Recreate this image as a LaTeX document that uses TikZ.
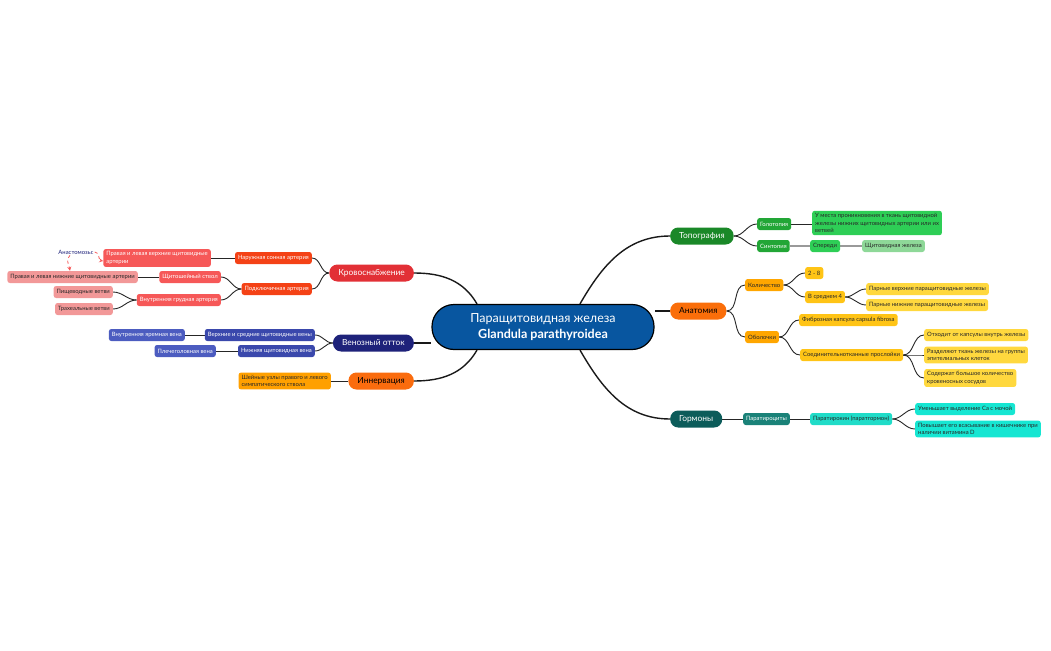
\documentclass[tikz,border=0pt]{standalone}
\usepackage{fontspec}
\setmainfont{Lato}
\usepackage{tikz}
\usepackage{color}
\usetikzlibrary{arrows,positioning,backgrounds}

\definecolor{centc}{RGB}{8,86,160}
\definecolor{krov}{RGB}{226,48,54}
\definecolor{krovA}{RGB}{244,66,22}
\definecolor{krovB}{RGB}{246,88,88}
\definecolor{krovC}{RGB}{242,152,152}
\definecolor{ven}{RGB}{30,34,122}
\definecolor{venA}{RGB}{58,72,172}
\definecolor{venB}{RGB}{76,92,192}
\definecolor{inn}{RGB}{250,108,14}
\definecolor{innA}{RGB}{255,160,0}
\definecolor{topo}{RGB}{26,136,40}
\definecolor{topoA}{RGB}{34,166,54}
\definecolor{topoB}{RGB}{46,206,86}
\definecolor{topoC}{RGB}{142,216,152}
\definecolor{anat}{RGB}{250,110,10}
\definecolor{anatA}{RGB}{255,166,0}
\definecolor{anatB}{RGB}{255,196,22}
\definecolor{anatC}{RGB}{255,216,62}
\definecolor{horm}{RGB}{12,92,90}
\definecolor{hormA}{RGB}{26,130,120}
\definecolor{hormB}{RGB}{32,220,200}
\definecolor{hormC}{RGB}{22,230,210}
\definecolor{darktxt}{RGB}{40,40,40}

\begin{document}
\begin{tikzpicture}[x=1pt,y=-1pt,
  main/.style={rectangle,rounded corners=8pt,minimum height=17pt,inner xsep=9pt,inner ysep=0pt,font=\fontsize{8.4}{10}\selectfont},
  leaf/.style={rectangle,rounded corners=2.5pt,minimum height=12pt,inner xsep=3pt,inner ysep=2.5pt,align=left,font=\fontsize{5.9}{7.6}\selectfont},
  conn/.style={draw=black!85,line width=0.9pt},
  mconn/.style={draw=black!90,line width=1.4pt},
  gconn/.style={draw=black!40,line width=1.5pt},
  anarr/.style={draw=krovB,line width=0.8pt,dashed,-stealth}]
\useasboundingbox (0,0) rectangle (1051,650);

% centre
\node at (543,327)[rectangle,rounded corners=22pt,minimum width=222pt,minimum height=45pt,draw=black,line width=1.2pt,fill=centc,text=white,align=center,font=\fontsize{12.5}{16}\selectfont](cent){Паращитовидная железа\\\textbf{Glandula parathyroidea}};

% left: blood supply
\node at (414,273)[main,anchor=east,fill=krov,text=white](krov){Кровоснабжение};
\node at (312,258)[leaf,anchor=east,fill=krovA,text=white](krovA1){Наружная сонная артерия};
\node at (312,289)[leaf,anchor=east,fill=krovA,text=white](krovA2){Подключичная артерия};
\node at (211,258)[leaf,anchor=east,fill=krovB,text=white](krovB1){Правая и левая верхние щитовидные\\артерии};
\node at (221,277)[leaf,anchor=east,fill=krovB,text=white](krovB2){Щитошейный ствол};
\node at (221,300)[leaf,anchor=east,fill=krovB,text=white](krovB3){Внутренняя грудная артерия};
\node at (138,277)[leaf,anchor=east,fill=krovC,text=darktxt](krovC1){Правая и левая нижние щитовидные артерии};
\node at (113,292)[leaf,anchor=east,fill=krovC,text=darktxt](krovC2){Пищеводные ветви};
\node at (113,309)[leaf,anchor=east,fill=krovC,text=darktxt](krovC3){Трахеальные ветви};
\node at (76,252)[inner sep=1pt,text=ven,font=\fontsize{5.9}{7}\selectfont](anast){Анастомозы:};

% left: veins
\node at (414,343)[main,anchor=east,fill=ven,text=white](ven){Венозный отток};
\node at (315,335)[leaf,anchor=east,fill=venA,text=white](venA1){Верхние и средние щитовидные вены};
\node at (315,351)[leaf,anchor=east,fill=venA,text=white](venA2){Нижняя щитовидная вена};
\node at (185,335)[leaf,anchor=east,fill=venB,text=white](venB1){Внутренняя яремная вена};
\node at (216,351)[leaf,anchor=east,fill=venB,text=white](venB2){Плечеголовная вена};

% left: nerves
\node at (414,381)[main,anchor=east,fill=inn,text=black](inn){Иннервация};
\node at (331,381)[leaf,anchor=east,fill=innA,text=darktxt](innA){Шейные узлы правого и левого\\симпатического ствола};

% right: topography
\node at (670,236)[main,anchor=west,fill=topo,text=white](topo){Топография};
\node at (757,224)[leaf,anchor=west,fill=topoA,text=white](topoA1){Голотопия};
\node at (757,246)[leaf,anchor=west,fill=topoA,text=white](topoA2){Синтопия};
\node at (812,223)[leaf,anchor=west,fill=topoB,text=darktxt](topoB1){У места проникновения в ткань щитовидной\\железы нижних щитовидных артерии или их\\ветвей};
\node at (810,246)[leaf,anchor=west,fill=topoB,text=darktxt](topoB2){Спереди};
\node at (862,246)[leaf,anchor=west,fill=topoC,text=darktxt](topoC){Щитовидная железа};

% right: anatomy
\node at (670,311)[main,anchor=west,fill=anat,text=black](anat){Анатомия};
\node at (745,285)[leaf,anchor=west,fill=anatA,text=darktxt](anatA1){Количество};
\node at (745,337)[leaf,anchor=west,fill=anatA,text=darktxt](anatA2){Оболочки};
\node at (805,273)[leaf,anchor=west,fill=anatB,text=darktxt](anatB1){2 - 8};
\node at (805,297)[leaf,anchor=west,fill=anatB,text=darktxt](anatB2){В среднем 4};
\node at (799,320)[leaf,anchor=west,fill=anatB,text=darktxt](anatB3){Фиброзная капсула capsula fibrosa};
\node at (800,355)[leaf,anchor=west,fill=anatB,text=darktxt](anatB4){Соединительнотканные прослойки};
\node at (866,289)[leaf,anchor=west,fill=anatC,text=darktxt](anatC1){Парные верхние паращитовидные железы};
\node at (866,305)[leaf,anchor=west,fill=anatC,text=darktxt](anatC2){Парные нижние паращитовидные железы};
\node at (924,335)[leaf,anchor=west,fill=anatC,text=darktxt](anatC3){Отходит от капсулы внутрь железы};
\node at (924,355)[leaf,anchor=west,fill=anatC,text=darktxt](anatC4){Разделяют ткань железы на группы\\эпителиальных клеток};
\node at (924,378)[leaf,anchor=west,fill=anatC,text=darktxt](anatC5){Содержат большое количество\\кровеносных сосудов};

% right: hormones
\node at (670,419)[main,anchor=west,fill=horm,text=white](horm){Гормоны};
\node at (743,419)[leaf,anchor=west,fill=hormA,text=white](hormA){Паратироциты};
\node at (810,419)[leaf,anchor=west,fill=hormB,text=darktxt](hormB){Паратирокин (паратгормон)};
\node at (915,409)[leaf,anchor=west,fill=hormC,text=darktxt](hormC1){Уменьшает выделение Ca с мочой};
\node at (915,429)[leaf,anchor=west,fill=hormC,text=darktxt](hormC2){Повышает его всасывание в кишечнике при\\наличии витамина D};

\begin{scope}[on background layer]
% centre to main branches
\draw[mconn] (krov.east) to[out=0,in=120] ([xshift=-66pt]cent.north);
\draw[mconn] (ven.east) -- (cent.west |- ven.east);
\draw[mconn] (inn.east) to[out=0,in=-120] ([xshift=-66pt]cent.south);
\draw[mconn] (topo.west) to[out=180,in=60] ([xshift=37pt]cent.north);
\draw[mconn] (anat.west) -- (cent.east |- anat.west);
\draw[mconn] (horm.west) to[out=180,in=-60] ([xshift=37pt]cent.south);
% blood supply
\draw[conn] (krov.west) to[out=180,in=0] (krovA1.east);
\draw[conn] (krov.west) to[out=180,in=0] (krovA2.east);
\draw[conn] (krovA1.west) -- (krovB1.east);
\draw[conn] (krovA2.west) to[out=180,in=0] (krovB2.east);
\draw[conn] (krovA2.west) to[out=180,in=0] (krovB3.east);
\draw[conn] (krovB2.west) -- (krovC1.east);
\draw[conn] (krovB3.west) to[out=180,in=0] (krovC2.east);
\draw[conn] (krovB3.west) to[out=180,in=0] (krovC3.east);
% veins
\draw[conn] (ven.west) to[out=180,in=0] (venA1.east);
\draw[conn] (ven.west) to[out=180,in=0] (venA2.east);
\draw[conn] (venA1.west) -- (venB1.east);
\draw[conn] (venA2.west) -- (venB2.east);
% nerves
\draw[conn] (inn.west) -- (innA.east);
% topography
\draw[conn] (topo.east) to[out=0,in=180] (topoA1.west);
\draw[conn] (topo.east) to[out=0,in=180] (topoA2.west);
\draw[conn] (topoA1.east) -- (topoA1.east -| topoB1.west);
\draw[gconn] (topoA2.east) -- (topoB2.west);
\draw[gconn] (topoB2.east) -- (topoC.west);
% anatomy
\draw[conn] (anat.east) to[out=0,in=180] (anatA1.west);
\draw[conn] (anat.east) to[out=0,in=180] (anatA2.west);
\draw[conn] (anatA1.east) to[out=0,in=180] (anatB1.west);
\draw[conn] (anatA1.east) to[out=0,in=180] (anatB2.west);
\draw[conn] (anatB2.east) to[out=0,in=180] (anatC1.west);
\draw[conn] (anatB2.east) to[out=0,in=180] (anatC2.west);
\draw[conn] (anatA2.east) to[out=0,in=180] (anatB3.west);
\draw[conn] (anatA2.east) to[out=0,in=180] (anatB4.west);
\draw[conn] (anatB4.east) to[out=0,in=180] (anatC3.west);
\draw[conn] (anatB4.east) to[out=0,in=180] (anatC4.west);
\draw[conn] (anatB4.east) to[out=0,in=180] (anatC5.west);
% hormones
\draw[conn] (horm.east) -- (hormA.west);
\draw[conn] (hormA.east) -- (hormB.west);
\draw[conn] (hormB.east) to[out=0,in=180] (hormC1.west);
\draw[conn] (hormB.east) to[out=0,in=180] (hormC2.west);
\end{scope}

% anastomoses
\draw[anarr] (anast.east) to[out=0,in=170] ([yshift=-3pt]krovB1.west);
\draw[anarr] ([xshift=-6pt]anast.south) to[out=-140,in=100] ([xshift=-6pt]anast.south |- krovC1.north);
\end{tikzpicture}
\end{document}
